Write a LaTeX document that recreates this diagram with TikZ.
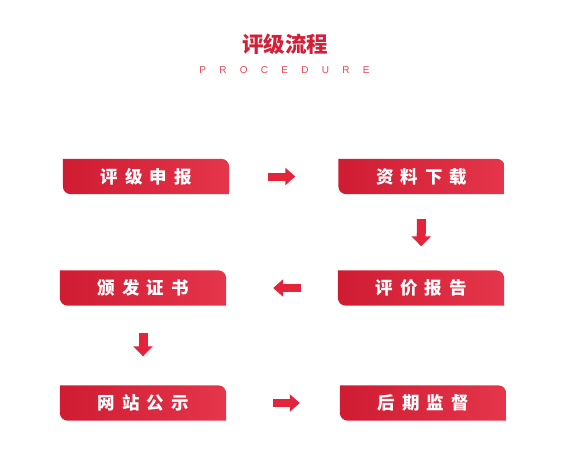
\documentclass[tikz,border=0pt]{standalone}
\usepackage{fontspec}
\usepackage{xcolor}
\usepackage{tikz}
\usetikzlibrary{
arrows.meta,
backgrounds
}
\newfontfamily\cjkfont{Noto Sans CJK SC}
\newfontfamily\cjkstage[LetterSpace=40]{Noto Sans CJK SC}
\newfontfamily\procfont[LetterSpace=133]{Liberation Sans}
\definecolor{procred}{HTML}{E3243B}
\definecolor{proctitle}{HTML}{D41F38}
\definecolor{procdark}{HTML}{CF1C33}

\begin{document}
\begin{tikzpicture}[
  x=1pt, y=1pt,
  stage/.style={minimum width=166pt, minimum height=35pt, inner sep=0pt,
    text=white, font=\cjkstage\bfseries\fontsize{17.5}{18}\selectfont},
  flowarrow/.style={-{Triangle[length=10pt, width=17pt]},
    line width=8pt, procred}
]
\useasboundingbox (0,0) rectangle (586,451);

%% Title
\node[font=\cjkfont\bfseries\fontsize{21.5}{23}\selectfont, proctitle]
  (title) at (285, 407) {评级流程};
\node[font=\procfont\fontsize{10}{12}\selectfont, procred!85]
  (subtitle) at (284.5, 381) {PROCEDURE};

%% ── STAGES ──────────────────────────────────────────────────
\node[stage] (apply)     at (146, 274.5) {评级申报};
\node[stage] (download)  at (421.5, 274.5) {资料下载};
\node[stage] (report)    at (421, 163) {评价报告};
\node[stage] (certify)   at (143, 163) {颁发证书};
\node[stage] (publish)   at (143, 48) {网站公示};
\node[stage] (supervise) at (423, 48) {后期监督};

%% Stage plates (square top-left, rounded top-right and bottom-left)
\begin{scope}[on background layer]
\foreach \n in {apply, download, report, certify, publish, supervise}
  \shade[left color=procdark, right color=procred!92!white]
    (\n.north west) -- ([xshift=-8pt]\n.north east)
    arc[start angle=90, end angle=0, radius=8pt]
    -- (\n.south east) -- ([xshift=8pt]\n.south west)
    arc[start angle=270, end angle=180, radius=8pt] -- cycle;
\end{scope}

%% ── ARROWS ──────────────────────────────────────────────────
\draw[flowarrow, shorten <=39pt, shorten >=43pt] (apply) -- (download);
\draw[flowarrow, line width=9pt, -{Triangle[length=10pt, width=19pt]},
  shorten <=25pt, shorten >=24pt] (download) -- (report);
\draw[flowarrow, shorten <=37pt, shorten >=47pt] (report) -- (certify);
\draw[flowarrow, line width=9pt, -{Triangle[length=10pt, width=19pt]},
  shorten <=27pt, shorten >=29pt] (certify) -- (publish);
\draw[flowarrow, shorten <=47pt, shorten >=40pt] (publish) -- (supervise);

\end{tikzpicture}
\end{document}
